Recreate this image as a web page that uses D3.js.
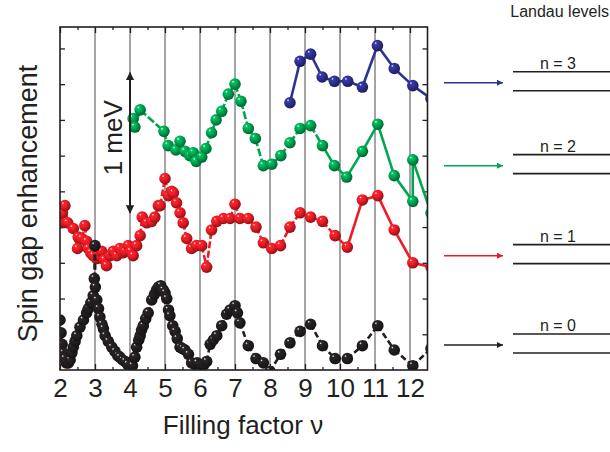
<!DOCTYPE html>
<html><head><meta charset="utf-8">
<script src="https://cdn.jsdelivr.net/npm/d3@7"></script>
<style>
html,body{margin:0;padding:0;background:#fff;}
text{font-family:"Liberation Sans",Arial,sans-serif;fill:#231f20;}
</style></head>
<body><svg id="chart" width="610" height="452"></svg>
<script>
// ---------- data ----------
const xTicks = [2,3,4,5,6,7,8,9,10,11,12];
const gridNu = [3,4,5,6,7,8,9,10,11,12];

const blackNu  = [2.00,2.03,2.06,2.09,2.13,2.18,2.24,2.29,2.34,2.38,2.43,2.48,2.57,2.67,2.76,2.81,2.88,2.95,2.98,3.00,3.01,3.05,3.10,3.14,3.20,3.24,3.29,3.38,3.48,3.57,3.65,3.71,3.79,3.86,3.93,4.00,4.07,4.14,4.19,4.25,4.29,4.33,4.38,4.45,4.52,4.62,4.70,4.76,4.81,4.88,4.95,5.00,5.05,5.10,5.14,5.22,5.29,5.35,5.43,5.50,5.57,5.67,5.76,5.85,5.92,6.05,6.12,6.19,6.29,6.38,6.48,6.62,6.76,6.86,7.00,7.07,7.14,7.38,7.60,7.81,8.00,8.30,8.57,8.86,9.16,9.50,9.86,10.21,10.64,11.08,11.55,12.08,12.60];
const blackVal = [0.35,0.26,0.18,0.12,0.08,0.05,0.05,0.07,0.12,0.16,0.20,0.24,0.30,0.35,0.40,0.43,0.47,0.52,0.64,0.87,0.58,0.49,0.43,0.37,0.32,0.29,0.24,0.20,0.16,0.13,0.10,0.09,0.07,0.06,0.04,0.02,0.03,0.09,0.16,0.21,0.24,0.28,0.31,0.36,0.40,0.49,0.53,0.56,0.58,0.59,0.56,0.54,0.50,0.42,0.38,0.31,0.27,0.22,0.16,0.15,0.14,0.11,0.05,0.04,0.05,0.03,0.04,0.06,0.18,0.21,0.24,0.31,0.39,0.42,0.45,0.40,0.33,0.17,0.08,0.05,-0.01,0.11,0.19,0.27,0.32,0.17,0.08,0.08,0.17,0.31,0.14,0.03,0.15];

const redNu  = [2.00,2.05,2.07,2.14,2.22,2.38,2.50,2.52,2.62,2.71,2.76,2.81,2.88,2.95,3.05,3.12,3.19,3.27,3.33,3.43,3.52,3.62,3.71,3.80,3.86,3.95,4.02,4.09,4.19,4.29,4.35,4.48,4.62,4.71,4.81,4.86,5.00,5.10,5.19,5.24,5.33,5.43,5.52,5.62,5.76,5.90,6.05,6.19,6.33,6.48,6.67,6.86,7.00,7.14,7.38,7.60,7.81,8.05,8.30,8.57,8.86,9.16,9.50,9.86,10.21,10.64,11.08,11.55,12.08,12.60];
const redVal = [1.03,1.14,1.10,1.15,1.03,0.99,0.85,0.93,0.92,1.01,0.90,0.85,0.82,0.80,0.78,0.80,0.83,0.77,0.73,0.80,0.83,0.80,0.85,0.82,0.83,0.87,0.83,0.80,0.87,0.94,1.07,1.03,1.04,1.07,1.15,1.15,1.34,1.22,1.25,1.24,1.17,1.10,1.03,0.92,0.85,0.87,0.87,0.72,0.98,1.04,1.06,1.06,1.16,1.06,1.06,1.00,0.89,0.85,0.87,1.00,1.10,1.07,1.04,0.94,0.86,1.19,1.22,0.98,0.75,0.72];

const greenNu  = [4.09,4.14,4.29,4.97,5.09,5.31,5.43,5.57,5.71,5.81,5.89,6.05,6.17,6.33,6.46,6.62,6.81,7.00,7.17,7.38,7.58,7.81,8.05,8.31,8.57,8.86,9.16,9.50,9.84,10.19,10.64,11.08,11.55,12.08,12.08,12.60];
const greenVal = [1.76,1.70,1.82,1.67,1.57,1.54,1.60,1.53,1.50,1.52,1.46,1.49,1.55,1.66,1.75,1.81,1.93,2.00,1.88,1.69,1.62,1.43,1.44,1.50,1.59,1.69,1.71,1.57,1.43,1.35,1.53,1.72,1.36,1.18,1.47,1.10];

const blueNu  = [8.57,8.86,9.16,9.49,9.84,10.22,10.64,11.07,11.55,12.08,12.60];
const blueVal = [1.87,2.16,2.21,2.05,2.02,2.02,1.98,2.27,2.11,1.99,1.90];

const levelN    = [0,1,2,3];
const levelBase = [0.175,0.80,1.43,2.01];   // value at which each level's arrow points
const levelColors = ["#231f20","#ed1c24","#00a651","#2e3192"];
const meVArrow = [1.10,2.08];               // 1 meV scale bar (value units)
const meVnu = 4;

// ---------- layout ----------
const svg = d3.select("#chart");
const L=60, R=427.5, T=27, B=370;
const x = d3.scaleLinear().domain([2,12.5]).range([L,R]);
const y = d3.scaleLinear().domain([0,2.4]).range([B,T]);
const ink = "#231f20";

const defs = svg.append("defs");
defs.append("clipPath").attr("id","plotclip").append("rect")
  .attr("x",L).attr("y",T).attr("width",R-L).attr("height",B-T);

function grad(id,color){
  const c = d3.color(color);
  const g = defs.append("radialGradient").attr("id",id)
    .attr("cx","40%").attr("cy","38%").attr("r","62%").attr("fx","33%").attr("fy","28%");
  g.append("stop").attr("offset","0%").attr("stop-color","#ffffff");
  g.append("stop").attr("offset","18%").attr("stop-color",c.brighter(0.5).formatHex());
  g.append("stop").attr("offset","50%").attr("stop-color",color);
  g.append("stop").attr("offset","100%").attr("stop-color",c.darker(1.4).formatHex());
}

// grid lines
svg.append("g").selectAll("line").data(gridNu).join("line")
  .attr("x1",d=>x(d)).attr("x2",d=>x(d)).attr("y1",T).attr("y2",B)
  .attr("stroke","#4a4a4a").attr("stroke-width",1);

// axes
const xMinor = d3.range(2.5,12.5,1);
svg.append("g").attr("transform",`translate(0,${B})`)
  .call(d3.axisBottom(x).tickValues(xTicks).tickSize(-6).tickPadding(9).tickFormat(d3.format("d")))
  .call(g=>{g.select(".domain").remove();
    g.selectAll("line").attr("stroke",ink).attr("stroke-width",1.3);
    g.selectAll("text").attr("font-size",26).attr("font-family","Liberation Sans, Arial, sans-serif").attr("fill",ink);});
svg.append("g").attr("transform",`translate(0,${B})`)
  .call(d3.axisBottom(x).tickValues(xMinor).tickSize(-3).tickFormat(""))
  .call(g=>{g.select(".domain").remove(); g.selectAll("line").attr("stroke",ink).attr("stroke-width",1.3);});
svg.append("g").attr("transform",`translate(0,${T})`)
  .call(d3.axisTop(x).tickValues(xTicks).tickSize(-6).tickFormat(""))
  .call(g=>{g.select(".domain").remove(); g.selectAll("line").attr("stroke",ink).attr("stroke-width",1.3);});
svg.append("g").attr("transform",`translate(0,${T})`)
  .call(d3.axisTop(x).tickValues(xMinor).tickSize(-3).tickFormat(""))
  .call(g=>{g.select(".domain").remove(); g.selectAll("line").attr("stroke",ink).attr("stroke-width",1.3);});
const yT = d3.range(0.25,2.4,0.25);
svg.append("g").attr("transform",`translate(${L},0)`)
  .call(d3.axisLeft(y).tickValues(yT).tickSize(-5).tickFormat(""))
  .call(g=>{g.select(".domain").remove(); g.selectAll("line").attr("stroke",ink).attr("stroke-width",1.3);});
svg.append("g").attr("transform",`translate(${R},0)`)
  .call(d3.axisRight(y).tickValues(yT).tickSize(-5).tickFormat(""))
  .call(g=>{g.select(".domain").remove(); g.selectAll("line").attr("stroke",ink).attr("stroke-width",1.3);});

// series
const plot = svg.append("g").attr("clip-path","url(#plotclip)");
const line = d3.line().x(d=>x(d[0])).y(d=>y(d[1]));
function series(nu,val,color,id,dashFn){
  grad(id,color);
  const pts = nu.map((n,i)=>[n,val[i]]);
  const g = plot.append("g");
  for(let i=0;i<pts.length-1;i++){
    g.append("path").attr("d",line([pts[i],pts[i+1]]))
      .attr("fill","none").attr("stroke",color).attr("stroke-width",2.6)
      .attr("stroke-dasharray",dashFn(pts[i][0]));
  }
  g.selectAll("circle").data(pts).join("circle")
    .attr("cx",d=>x(d[0])).attr("cy",d=>y(d[1])).attr("r",5.8)
    .attr("fill",`url(#${id})`);
}
series(redNu,redVal,"#ed1c24","gRed",n=>n<9.6?"7,2.5":null);
series(blackNu,blackVal,"#231f20","gBlack",n=>"6,3");
series(greenNu,greenVal,"#00a651","gGreen",n=>n<9.3?"8,2.5":null);
series(blueNu,blueVal,"#2e3192","gBlue",n=>null);

// frame
svg.append("rect").attr("x",L).attr("y",T).attr("width",R-L).attr("height",B-T)
  .attr("fill","none").attr("stroke",ink).attr("stroke-width",1.6);

// 1 meV scale bar
const mk = defs.append("marker").attr("id","bigArrow").attr("viewBox","0 0 10 10")
  .attr("refX",9).attr("refY",5).attr("markerWidth",4.2).attr("markerHeight",6.5)
  .attr("markerUnits","strokeWidth").attr("orient","auto-start-reverse");
mk.append("path").attr("d","M0,0 L10,5 L0,10 Z").attr("fill",ink);
svg.append("line").attr("x1",x(meVnu)).attr("x2",x(meVnu))
  .attr("y1",y(meVArrow[0])).attr("y2",y(meVArrow[1]))
  .attr("stroke",ink).attr("stroke-width",2)
  .attr("marker-start","url(#bigArrow)").attr("marker-end","url(#bigArrow)");
svg.append("text").attr("transform",`translate(${x(meVnu)-8},${y((meVArrow[0]+meVArrow[1])/2)-5}) rotate(-90)`)
  .attr("text-anchor","middle").attr("font-size",26).text("1 meV");

// axis titles
svg.append("text").attr("x",243).attr("y",434).attr("text-anchor","middle")
  .attr("font-size",26).text("Filling factor ν");
svg.append("text").attr("transform",`translate(37,${(T+B)/2+5}) rotate(-90)`)
  .attr("text-anchor","middle").attr("font-size",27).text("Spin gap enhancement");

// Landau levels panel
svg.append("text").attr("x",609).attr("y",17).attr("text-anchor","end")
  .attr("font-size",16).attr("fill","#333").text("Landau levels");
levelN.forEach((n,i)=>{
  const c = levelColors[i];
  const yy = y(levelBase[i]);
  const mid = "lvl"+n;
  const m = defs.append("marker").attr("id",mid).attr("viewBox","0 0 10 10")
    .attr("refX",10).attr("refY",5).attr("markerWidth",7).attr("markerHeight",4)
    .attr("markerUnits","strokeWidth").attr("orient","auto");
  m.append("path").attr("d","M0,0 L10,5 L0,10 Z").attr("fill",c);
  svg.append("line").attr("x1",444).attr("x2",503).attr("y1",yy).attr("y2",yy)
    .attr("stroke",c).attr("stroke-width",1.5).attr("marker-end",`url(#${mid})`);
  svg.append("line").attr("x1",513).attr("x2",610).attr("y1",yy-11).attr("y2",yy-11)
    .attr("stroke",ink).attr("stroke-width",1.6);
  svg.append("line").attr("x1",513).attr("x2",610).attr("y1",yy+8).attr("y2",yy+8)
    .attr("stroke",ink).attr("stroke-width",1.6);
  svg.append("text").attr("x",558).attr("y",yy-14).attr("text-anchor","middle")
    .attr("font-size",16).text(`n = ${n}`);
});
</script></body></html>
